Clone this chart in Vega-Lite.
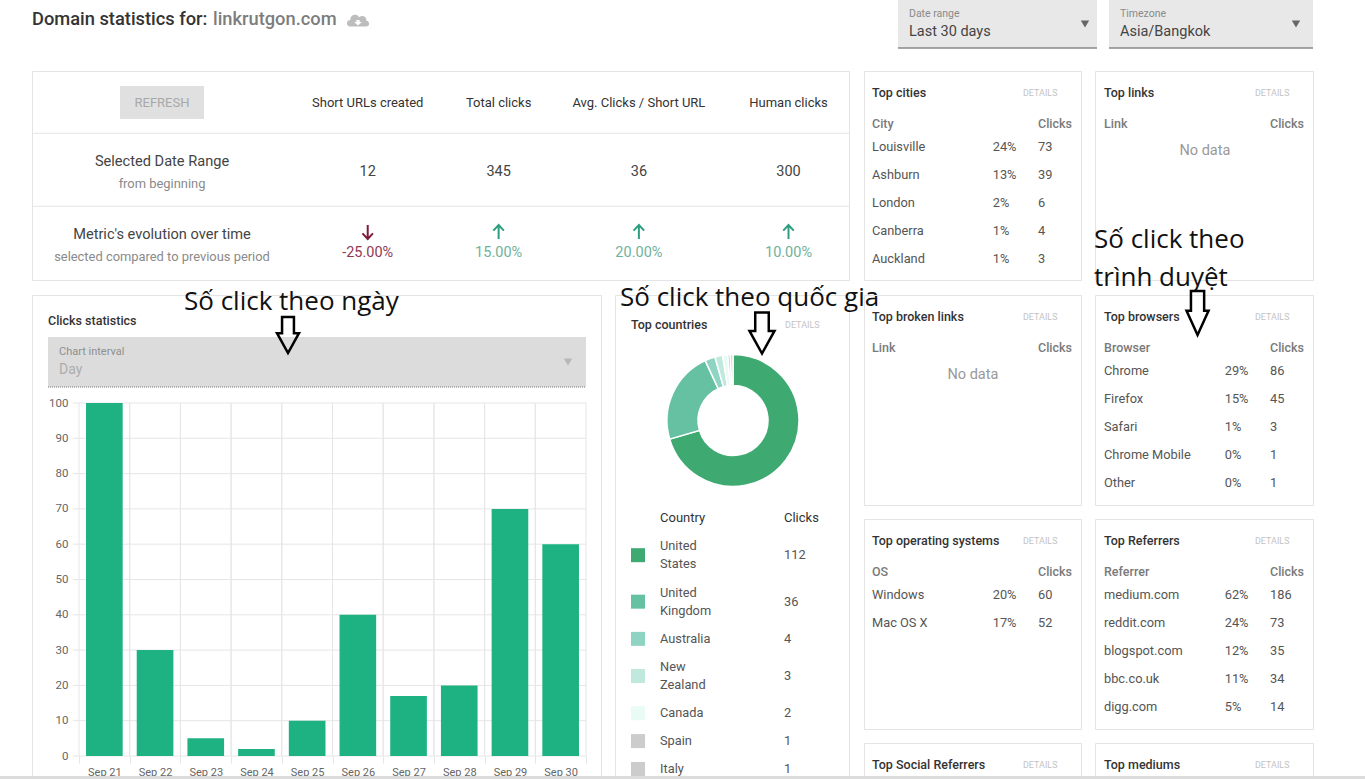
{
"$schema":"https://vega.github.io/schema/vega-lite/v6.json",
"padding":0,
"spacing":776,
"bounds":"flush",
"background":"#ffffff",
"config":{
"font":"Roboto",
"view":{"stroke":"#e4e4e4"},
"scale":{"pointPadding":0},
"text":{"align":"left","font":"Roboto"},
"style":{
"ptitle":{"fontSize":12.5,"fontWeight":500,"color":"#333333"},
"pdetails":{"fontSize":9,"color":"#c4c4c4"},
"phead":{"fontSize":12.5,"fontWeight":500,"color":"#7a7a7a"},
"pbody":{"fontSize":12.8,"color":"#555555"},
"pempty":{"fontSize":14.5,"color":"#999999"},
"note":{"font":"Open Sans","fontSize":26,"color":"#111111","lineHeight":38,"lineBreak":"\n"}
}
},
"vconcat":[
{"spacing":0,"bounds":"flush","hconcat":[
{"width":32,"height":1,"view":{"stroke":null},"data":{"values":[{"a":1}]},"mark":{"type":"rule","opacity":0},"encoding":{"y":{"field":"a","type":"quantitative","axis":null}}},
{"spacing":71,"bounds":"flush","vconcat":[
{"spacing":12,"bounds":"flush","hconcat":[
{"width":854,"height":48,"view":{"stroke":null},
"encoding":{"y":{"datum":"title","type":"nominal","axis":null,"scale":{"domain":["title"],"range":[20,20]}}},
"layer":[
{"data":{"values":[{"pos":"start","text":"Domain statistics for:"}]},"encoding":{"x":{"field":"pos","type":"nominal","axis":null,"scale":{"domain":["start","end"],"range":[0,854]}},"text":{"field":"text"}},"mark":{"type":"text","fontSize":18.3,"fontWeight":500,"color":"#333333"}},
{"data":{"values":[{"pos":"start","text":"linkrutgon.com"}]},"encoding":{"x":{"field":"pos","type":"nominal","axis":null,"scale":{"domain":["start","end"],"range":[0,854]}},"text":{"field":"text"}},"mark":{"type":"text","fontSize":18.3,"fontWeight":500,"color":"#7d7d7d","dx":181}},
{"data":{"values":[{"pos":"start"}]},"encoding":{"x":{"field":"pos","type":"nominal","axis":null,"scale":{"domain":["start","end"],"range":[0,854]}}},"mark":{"type":"point","filled":true,"opacity":1,"size":484,"color":"#bdbdbd","xOffset":326,"yOffset":1,"shape":"M-.7,.5C-1.1,.5,-1.1,-.1,-.7,-.1C-.7,-.6,-.1,-.7,.1,-.35C.5,-.6,.8,-.3,.75,-.05C1.1,0,1.1,.5,.75,.5Z"}},
{"data":{"values":[{"pos":"start"}]},"encoding":{"x":{"field":"pos","type":"nominal","axis":null,"scale":{"domain":["start","end"],"range":[0,854]}}},"mark":{"type":"point","filled":true,"opacity":1,"size":484,"color":"#ffffff","xOffset":326,"yOffset":1,"shape":"M-.15,-.1H.15V.1H.35L0,.42L-.35,.1H-.15Z"}}
]},
{"width":199,"height":48,"view":{"fill":"#e8e8e8","stroke":null},
"data":{"values":[{"row":"hint","col":"label","text":"Date range"},{"row":"value","col":"label","text":"Last 30 days"},{"row":"edge","col":"label"},{"row":"value","col":"caret"}]},
"encoding":{"x":{"field":"col","type":"nominal","axis":null,"scale":{"domain":["label","caret"],"range":[11,187]}},"y":{"field":"row","type":"nominal","axis":null,"scale":{"type":"point","domain":["hint","value","edge"],"range":[14,48]}},"text":{"field":"text"}},
"layer":[
{"transform":[{"filter":"datum.row=='hint'"}],"mark":{"type":"text","fontSize":10.5,"color":"#8a8a8a"}},
{"transform":[{"filter":"datum.row=='value'&&datum.col=='label'"}],"mark":{"type":"text","fontSize":14.5,"color":"#444444","dy":1}},
{"transform":[{"filter":"datum.row=='edge'"}],"mark":{"type":"rule","color":"#8a8a8a","strokeWidth":1.5},"encoding":{"x":null,"text":null}},
{"transform":[{"filter":"datum.col=='caret'"}],"mark":{"type":"point","shape":"triangle-down","filled":true,"opacity":1,"size":70,"color":"#666666","yOffset":-7},"encoding":{"text":null}}
]},
{"width":204,"height":48,"view":{"fill":"#e8e8e8","stroke":null},
"data":{"values":[{"row":"hint","col":"label","text":"Timezone"},{"row":"value","col":"label","text":"Asia/Bangkok"},{"row":"edge","col":"label"},{"row":"value","col":"caret"}]},
"encoding":{"x":{"field":"col","type":"nominal","axis":null,"scale":{"domain":["label","caret"],"range":[11,187]}},"y":{"field":"row","type":"nominal","axis":null,"scale":{"type":"point","domain":["hint","value","edge"],"range":[14,48]}},"text":{"field":"text"}},
"layer":[
{"transform":[{"filter":"datum.row=='hint'"}],"mark":{"type":"text","fontSize":10.5,"color":"#8a8a8a"}},
{"transform":[{"filter":"datum.row=='value'&&datum.col=='label'"}],"mark":{"type":"text","fontSize":14.5,"color":"#444444","dy":1}},
{"transform":[{"filter":"datum.row=='edge'"}],"mark":{"type":"rule","color":"#8a8a8a","strokeWidth":1.5},"encoding":{"x":null,"text":null}},
{"transform":[{"filter":"datum.col=='caret'"}],"mark":{"type":"point","shape":"triangle-down","filled":true,"opacity":1,"size":70,"color":"#666666","yOffset":-7},"encoding":{"text":null}}
]}
]},
{"spacing":832,"bounds":"flush","hconcat":[
{"spacing":15,"bounds":"flush","vconcat":[
{"width":817,"height":209,
"data":{"values":[
{"row":"head","col":"urls","kind":"head","text":"Short URLs created"},
{"row":"head","col":"total","kind":"head","text":"Total clicks"},
{"row":"head","col":"avg","kind":"head","text":"Avg. Clicks / Short URL"},
{"row":"head","col":"human","kind":"head","text":"Human clicks"},
{"row":"head","col":"label","kind":"button","text":"REFRESH"},
{"row":"line1","col":"label","kind":"line1"},
{"row":"line2","col":"label","kind":"line2"},
{"row":"range","col":"label","kind":"label","text":"Selected Date Range"},
{"row":"range","col":"label","kind":"sub1","text":"from beginning"},
{"row":"range","col":"urls","kind":"value","text":"12"},
{"row":"range","col":"total","kind":"value","text":"345"},
{"row":"range","col":"avg","kind":"value","text":"36"},
{"row":"range","col":"human","kind":"value","text":"300"},
{"row":"evo","col":"label","kind":"label2","text":"Metric's evolution over time"},
{"row":"evo","col":"label","kind":"sub2","text":"selected compared to previous period"},
{"row":"evo","col":"urls","kind":"pct","dir":"down","text":"-25.00%"},
{"row":"evo","col":"total","kind":"pct","dir":"up","text":"15.00%"},
{"row":"evo","col":"avg","kind":"pct","dir":"up","text":"20.00%"},
{"row":"evo","col":"human","kind":"pct","dir":"up","text":"10.00%"}
]},
"encoding":{
"x":{"field":"col","type":"nominal","axis":null,"scale":{"range":[130,756.5],"domain":["label","1","2","3","4","5","6","7","8","9","10","11","12","13","14","15","16","17","18","19","20","21","urls","23","24","25","26","27","28","29","30","31","32","33","34","35","total","37","38","39","40","41","42","43","44","45","46","47","48","49","50","avg","52","53","54","55","56","57","58","59","60","61","62","63","64","65","66","human"]}},
"y":{"field":"row","type":"nominal","axis":null,"scale":{"type":"point","domain":["head","line1","range","line2","evo"],"range":[29,172]}},
"text":{"field":"text"}},
"layer":[
{"transform":[{"filter":"datum.kind=='line1'"}],"mark":{"type":"rule","color":"#e4e4e4","yOffset":-2.5},"encoding":{"x":null,"text":null}},
{"transform":[{"filter":"datum.kind=='line2'"}],"mark":{"type":"rule","color":"#e4e4e4","yOffset":-1},"encoding":{"x":null,"text":null}},
{"transform":[{"filter":"datum.kind=='button'"}],"mark":{"type":"point","filled":true,"opacity":1,"size":7056,"color":"#e0e0e0","yOffset":2.5,"shape":"M-1,-.39H1V.39H-1Z"},"encoding":{"text":null}},
{"transform":[{"filter":"datum.kind=='button'"}],"mark":{"type":"text","align":"center","fontSize":13,"color":"#a8a8a8","dy":3}},
{"transform":[{"filter":"datum.kind=='head'"}],"mark":{"type":"text","align":"center","fontSize":13,"color":"#333333","dy":3}},
{"transform":[{"filter":"datum.kind=='value'"}],"mark":{"type":"text","align":"center","fontSize":14.5,"color":"#444444"}},
{"transform":[{"filter":"datum.kind=='label'"}],"mark":{"type":"text","align":"center","fontSize":14.6,"color":"#444444","dy":-9.5}},
{"transform":[{"filter":"datum.kind=='sub1'"}],"mark":{"type":"text","align":"center","fontSize":12.9,"color":"#8a8a8a","dy":12.5}},
{"transform":[{"filter":"datum.kind=='label2'"}],"mark":{"type":"text","align":"center","fontSize":14.6,"color":"#444444","dy":-8}},
{"transform":[{"filter":"datum.kind=='sub2'"}],"mark":{"type":"text","align":"center","fontSize":12.9,"color":"#8a8a8a","dy":14}},
{"transform":[{"filter":"datum.kind=='pct'&&datum.dir=='up'"}],"mark":{"type":"text","align":"center","fontSize":14.5,"dy":10,"color":"#6fb29c"}},
{"transform":[{"filter":"datum.kind=='pct'&&datum.dir=='down'"}],"mark":{"type":"text","align":"center","fontSize":14.5,"dy":10,"color":"#8f3a55"}},
{"transform":[{"filter":"datum.kind=='pct'&&datum.dir=='up'"}],"mark":{"type":"point","filled":false,"opacity":1,"size":196,"strokeWidth":2,"color":"#2e9e80","yOffset":-11,"shape":"M0,1V-1M-.75,-.2L0,-1L.75,-.2"},"encoding":{"text":null}},
{"transform":[{"filter":"datum.kind=='pct'&&datum.dir=='down'"}],"mark":{"type":"point","filled":false,"opacity":1,"size":196,"strokeWidth":2,"color":"#7d1c3f","yOffset":-11,"shape":"M0,-1V1M-.75,.2L0,1L.75,.2"},"encoding":{"text":null}}
]},
{"spacing":14,"bounds":"flush","hconcat":[
{"width":569,"height":481,
"resolve":{"scale":{"x":"independent","y":"independent"}},
"layer":[
{"data":{"values":[{"tick":0},{"tick":10},{"tick":20},{"tick":30},{"tick":40},{"tick":50},{"tick":60},{"tick":70},{"tick":80},{"tick":90},{"tick":100}]},
"mark":{"type":"rule","color":"#e6e6e6"},
"encoding":{
"x":{"datum":0,"type":"quantitative","axis":null,"scale":{"domain":[0,1],"range":[41,554]}},
"x2":{"datum":1},
"y":{"field":"tick","type":"quantitative","scale":{"domain":[0,100],"range":[461,108]},"axis":{"title":null,"offset":-47,"values":[0,10,20,30,40,50,60,70,80,90,100],"domain":false,"ticks":false,"grid":false,"labelPadding":11,"labelFontSize":11.5,"labelColor":"#666666","labelFont":"Roboto"}}}},
{"data":{"values":[{"day":"Sep 21","clicks":100},{"day":"Sep 22","clicks":30},{"day":"Sep 23","clicks":5},{"day":"Sep 24","clicks":2},{"day":"Sep 25","clicks":10},{"day":"Sep 26","clicks":40},{"day":"Sep 27","clicks":17},{"day":"Sep 28","clicks":20},{"day":"Sep 29","clicks":70},{"day":"Sep 30","clicks":60}]},
"resolve":{"scale":{"x":"independent"}},
"layer":[
{"mark":{"type":"rule","color":"#e6e6e6"},
"encoding":{
"x":{"field":"day","type":"nominal","bandPosition":0,"sort":null,"scale":{"type":"band","padding":0,"range":[47,554]},"axis":{"title":null,"orient":"bottom","offset":-20,"tickBand":"extent","labelAngle":0,"domain":false,"tickSize":7,"tickColor":"#e6e6e6","labelPadding":3,"labelFontSize":11,"labelColor":"#666666","labelFont":"Roboto","labelOverlap":false}},
"y":{"datum":0,"type":"quantitative","axis":null,"scale":{"domain":[0,100],"range":[461,108]}},
"y2":{"datum":100}}},
{"mark":{"type":"rule","color":"#e6e6e6"},
"encoding":{
"x":{"field":"day","type":"nominal","bandPosition":1,"sort":null,"axis":null,"scale":{"type":"band","padding":0,"range":[47,554]}},
"y":{"datum":0,"type":"quantitative","axis":null,"scale":{"domain":[0,100],"range":[461,108]}},
"y2":{"datum":100}}},
{"mark":{"type":"bar","color":"#1eb282"},
"encoding":{
"x":{"field":"day","type":"nominal","sort":null,"axis":null,"scale":{"type":"band","paddingInner":0.277,"paddingOuter":0.1385,"range":[47,554]}},
"y":{"field":"clicks","type":"quantitative","axis":null,"scale":{"domain":[0,100],"range":[461,108]}}}}
]},
{"data":{"values":[
{"part":"title","row":"title","pos":"start","text":"Clicks statistics"},
{"part":"box","row":"interval","pos":"center"},
{"part":"hint","row":"interval","pos":"start","text":"Chart interval"},
{"part":"day","row":"interval","pos":"start","text":"Day"},
{"part":"caret","row":"interval","pos":"end"},
{"part":"note","row":"title","pos":"center","text":"Số click theo ngày"},
{"part":"arrow","row":"title","pos":"center"}
]},
"encoding":{
"x":{"field":"pos","type":"nominal","axis":null,"scale":{"domain":["start","center","end"],"range":[16,554]}},
"y":{"field":"row","type":"nominal","axis":null,"scale":{"domain":["title","interval"],"range":[25,67]}},
"text":{"field":"text"}},
"layer":[
{"transform":[{"filter":"datum.part=='title'"}],"mark":{"type":"text","style":"ptitle","dy":1}},
{"transform":[{"filter":"datum.part=='box'"}],"mark":{"type":"point","filled":true,"opacity":1,"size":289444,"color":"#dcdcdc","shape":"M-1,-.093H1V.093H-1Z"},"encoding":{"text":null}},
{"transform":[{"filter":"datum.part=='box'"}],"mark":{"type":"point","filled":false,"opacity":1,"size":289444,"color":"#777777","strokeWidth":1,"strokeDash":[1,1],"shape":"M-1,.093H1"},"encoding":{"text":null}},
{"transform":[{"filter":"datum.part=='hint'"}],"mark":{"type":"text","fontSize":11,"color":"#8f8f8f","dx":11,"dy":-10}},
{"transform":[{"filter":"datum.part=='day'"}],"mark":{"type":"text","fontSize":14,"color":"#adadad","dx":11,"dy":8}},
{"transform":[{"filter":"datum.part=='caret'"}],"mark":{"type":"point","shape":"triangle-down","filled":true,"opacity":1,"size":70,"color":"#b8b8b8","xOffset":-18},"encoding":{"text":null}},
{"transform":[{"filter":"datum.part=='note'"}],"mark":{"type":"text","style":"note","dx":-133,"dy":-18}},
{"transform":[{"filter":"datum.part=='arrow'"}],"mark":{"type":"point","filled":false,"opacity":1,"size":1296,"strokeWidth":2.5,"color":"#000000","xOffset":-29,"yOffset":15,"shape":"M-.33,-1H.33V-.1H.61L0,1L-.61,-.1H-.33Z"},"encoding":{"text":null}}
]}
]},
{"width":234,"height":481,
"resolve":{"scale":{"x":"independent","y":"independent"}},
"data":{"values":[
{"country":"United States","label":"United\nStates","clicks":112},
{"country":"United Kingdom","label":"United\nKingdom","clicks":36},
{"country":"Australia","label":"Australia","clicks":4},
{"country":"New Zealand","label":"New\nZealand","clicks":3},
{"country":"Canada","label":"Canada","clicks":2},
{"country":"Spain","label":"Spain","clicks":1},
{"country":"Italy","label":"Italy","clicks":1}
]},
"layer":[
{"mark":{"type":"arc","innerRadius":35,"outerRadius":66,"stroke":"#ffffff","strokeWidth":1.5,"xOffset":1},
"encoding":{
"theta":{"field":"clicks","type":"quantitative"},
"order":{"field":"clicks","sort":"descending"},
"color":{"field":"country","type":"nominal","legend":null,"scale":{"domain":["United States","United Kingdom","Australia","New Zealand","Canada","Spain","Italy"],"range":["#3eaa72","#66c0a2","#8fd3c3","#c0e8dd","#e8fbf5","#cccccc","#cccccc"]}},
"y":{"datum":"donut","type":"nominal","axis":null,"scale":{"domain":["title","donut"],"range":[30,125.5]}}}},
{"encoding":{"y":{"field":"country","type":"nominal","axis":null,"scale":{"range":[223,474],"domain":["head","a1","a2","a3","United States","b1","b2","b3","b4","United Kingdom","c1","c2","c3","Australia","d1","d2","d3","New Zealand","e1","e2","e3","Canada","f1","f2","Spain","g1","g2","Italy"]}}},
"layer":[
{"mark":{"type":"point","shape":"square","filled":true,"opacity":1,"size":196},
"encoding":{
"x":{"datum":"swatch","type":"nominal","axis":null,"scale":{"domain":["swatch","label","clicks"],"range":[23,169]}},
"color":{"field":"country","type":"nominal","legend":null}}},
{"transform":[{"filter":"indexof(datum.label,'\\n')>=0"}],"mark":{"type":"text","style":"pbody","lineBreak":"\n","lineHeight":18,"dx":-51,"dy":-9},
"encoding":{
"x":{"datum":"label","type":"nominal","axis":null,"scale":{"domain":["swatch","label","clicks"],"range":[23,169]}},
"text":{"field":"label"}}},
{"transform":[{"filter":"indexof(datum.label,'\\n')<0"}],"mark":{"type":"text","style":"pbody","dx":-51},
"encoding":{
"x":{"datum":"label","type":"nominal","axis":null,"scale":{"domain":["swatch","label","clicks"],"range":[23,169]}},
"text":{"field":"label"}}},
{"mark":{"type":"text","style":"pbody"},
"encoding":{
"x":{"datum":"clicks","type":"nominal","axis":null,"scale":{"domain":["swatch","label","clicks"],"range":[23,169]}},
"text":{"field":"clicks"}}}
]},
{"data":{"values":[{"country":"head","pos":"label","text":"Country"},{"country":"head","pos":"clicks","text":"Clicks"}]},
"encoding":{
"x":{"field":"pos","type":"nominal","axis":null,"scale":{"domain":["swatch","label","clicks"],"range":[23,169]}},
"y":{"field":"country","type":"nominal","axis":null,"scale":{"domain":["head"],"range":[223,223]}},
"text":{"field":"text"}},
"layer":[
{"transform":[{"filter":"datum.pos=='label'"}],"mark":{"type":"text","fontSize":13,"color":"#333333","dx":-51}},
{"transform":[{"filter":"datum.pos=='clicks'"}],"mark":{"type":"text","fontSize":13,"color":"#333333"}}
]},
{"data":{"values":[
{"part":"title","row":"title","pos":"swatch","text":"Top countries"},
{"part":"details","row":"title","pos":"clicks","text":"DETAILS"},
{"part":"note","row":"title","pos":"swatch","text":"Số click theo quốc gia"},
{"part":"arrow","row":"title","pos":"clicks"}
]},
"encoding":{
"x":{"field":"pos","type":"nominal","axis":null,"scale":{"domain":["swatch","label","clicks"],"range":[23,169]}},
"y":{"field":"row","type":"nominal","axis":null,"scale":{"domain":["title","donut"],"range":[30,125]}},
"text":{"field":"text"}},
"layer":[
{"transform":[{"filter":"datum.part=='title'"}],"mark":{"type":"text","style":"ptitle","dx":-7}},
{"transform":[{"filter":"datum.part=='details'"}],"mark":{"type":"text","style":"pdetails","dx":1}},
{"transform":[{"filter":"datum.part=='note'"}],"mark":{"type":"text","style":"note","dx":-18,"dy":-27}},
{"transform":[{"filter":"datum.part=='arrow'"}],"mark":{"type":"point","filled":false,"opacity":1,"size":1681,"strokeWidth":2.5,"color":"#000000","xOffset":-22,"yOffset":8,"shape":"M-.33,-1H.33V-.1H.61L0,1L-.61,-.1H-.33Z"},"encoding":{"text":null}}
]}
]}
]}
]},
{"spacing":231,"bounds":"flush","hconcat":[
{"spacing":15,"bounds":"flush","vconcat":[
{"width":217,"height":209,
"data":{"values":[
{"row":"title","col":"name","text":"Top cities"},{"row":"title","col":"details","text":"DETAILS"},
{"row":"head","col":"name","text":"City"},{"row":"head","col":"clicks","text":"Clicks"},
{"row":"r1","col":"name","text":"Louisville"},{"row":"r1","col":"pct","text":"24%"},{"row":"r1","col":"clicks","text":"73"},
{"row":"r2","col":"name","text":"Ashburn"},{"row":"r2","col":"pct","text":"13%"},{"row":"r2","col":"clicks","text":"39"},
{"row":"r3","col":"name","text":"London"},{"row":"r3","col":"pct","text":"2%"},{"row":"r3","col":"clicks","text":"6"},
{"row":"r4","col":"name","text":"Canberra"},{"row":"r4","col":"pct","text":"1%"},{"row":"r4","col":"clicks","text":"4"},
{"row":"r5","col":"name","text":"Auckland"},{"row":"r5","col":"pct","text":"1%"},{"row":"r5","col":"clicks","text":"3"}
]},
"encoding":{"x":{"field":"col","type":"nominal","axis":null,"scale":{"domain":["name","1","2","3","4","empty","arrow","7","pct","9","details","clicks"],"range":[8,174]}},"y":{"field":"row","type":"nominal","axis":null,"scale":{"domain":["title","head","r1","r2","r3","r4","r5"],"range":[20,188]}},"text":{"field":"text"}},
"layer":[
{"transform":[{"filter":"datum.row=='title'&&datum.col=='name'"}],"mark":{"type":"text","style":"ptitle","dy":2}},
{"transform":[{"filter":"datum.col=='details'"}],"mark":{"type":"text","style":"pdetails","dy":2}},
{"transform":[{"filter":"datum.row=='head'"}],"mark":{"type":"text","style":"phead","dy":5}},
{"transform":[{"filter":"datum.row!='title'&&datum.row!='head'"}],"mark":{"type":"text","style":"pbody"}}
]},
{"spacing":14,"bounds":"flush","vconcat":[
{"width":217,"height":210,
"data":{"values":[
{"row":"title","col":"name","text":"Top broken links"},{"row":"title","col":"details","text":"DETAILS"},
{"row":"head","col":"name","text":"Link"},{"row":"head","col":"clicks","text":"Clicks"},
{"row":"r1","col":"empty","text":"No data"}
]},
"encoding":{"x":{"field":"col","type":"nominal","axis":null,"scale":{"domain":["name","1","2","3","4","empty","arrow","7","pct","9","details","clicks"],"range":[8,174]}},"y":{"field":"row","type":"nominal","axis":null,"scale":{"domain":["title","head","r1","r2","r3","r4","r5"],"range":[20,188]}},"text":{"field":"text"}},
"layer":[
{"transform":[{"filter":"datum.row=='title'&&datum.col=='name'"}],"mark":{"type":"text","style":"ptitle","dy":2}},
{"transform":[{"filter":"datum.col=='details'"}],"mark":{"type":"text","style":"pdetails","dy":2}},
{"transform":[{"filter":"datum.row=='head'"}],"mark":{"type":"text","style":"phead","dy":5}},
{"transform":[{"filter":"datum.col=='empty'"}],"mark":{"type":"text","style":"pempty","dy":4}}
]},
{"width":217,"height":210,
"data":{"values":[
{"row":"title","col":"name","text":"Top operating systems"},{"row":"title","col":"details","text":"DETAILS"},
{"row":"head","col":"name","text":"OS"},{"row":"head","col":"clicks","text":"Clicks"},
{"row":"r1","col":"name","text":"Windows"},{"row":"r1","col":"pct","text":"20%"},{"row":"r1","col":"clicks","text":"60"},
{"row":"r2","col":"name","text":"Mac OS X"},{"row":"r2","col":"pct","text":"17%"},{"row":"r2","col":"clicks","text":"52"}
]},
"encoding":{"x":{"field":"col","type":"nominal","axis":null,"scale":{"domain":["name","1","2","3","4","empty","arrow","7","pct","9","details","clicks"],"range":[8,174]}},"y":{"field":"row","type":"nominal","axis":null,"scale":{"domain":["title","head","r1","r2","r3","r4","r5"],"range":[20,188]}},"text":{"field":"text"}},
"layer":[
{"transform":[{"filter":"datum.row=='title'&&datum.col=='name'"}],"mark":{"type":"text","style":"ptitle","dy":2}},
{"transform":[{"filter":"datum.col=='details'"}],"mark":{"type":"text","style":"pdetails","dy":2}},
{"transform":[{"filter":"datum.row=='head'"}],"mark":{"type":"text","style":"phead","dy":5}},
{"transform":[{"filter":"datum.row!='title'&&datum.row!='head'"}],"mark":{"type":"text","style":"pbody"}}
]},
{"width":217,"height":33,
"data":{"values":[{"row":"title","col":"name","text":"Top Social Referrers"},{"row":"title","col":"details","text":"DETAILS"}]},
"encoding":{"x":{"field":"col","type":"nominal","axis":null,"scale":{"domain":["name","1","2","3","4","empty","arrow","7","pct","9","details","clicks"],"range":[8,174]}},"y":{"field":"row","type":"nominal","axis":null,"scale":{"domain":["title","head"],"range":[20,48]}},"text":{"field":"text"}},
"layer":[
{"transform":[{"filter":"datum.col=='name'"}],"mark":{"type":"text","style":"ptitle","dy":2}},
{"transform":[{"filter":"datum.col=='details'"}],"mark":{"type":"text","style":"pdetails","dy":2}}
]}
]}
]},
{"spacing":15,"bounds":"flush","vconcat":[
{"width":218,"height":209,
"data":{"values":[
{"row":"title","col":"name","text":"Top links"},{"row":"title","col":"details","text":"DETAILS"},
{"row":"head","col":"name","text":"Link"},{"row":"head","col":"clicks","text":"Clicks"},
{"row":"r1","col":"empty","text":"No data"},
{"row":"r5","col":"name","note":true,"text":"Số click theo\ntrình duyệt"}
]},
"encoding":{"x":{"field":"col","type":"nominal","axis":null,"scale":{"domain":["name","1","2","3","4","empty","arrow","7","pct","9","details","clicks"],"range":[9,175]}},"y":{"field":"row","type":"nominal","axis":null,"scale":{"domain":["title","head","r1","r2","r3","r4","r5"],"range":[20,188]}},"text":{"field":"text"}},
"layer":[
{"transform":[{"filter":"datum.row=='title'&&datum.col=='name'"}],"mark":{"type":"text","style":"ptitle","dy":2}},
{"transform":[{"filter":"datum.col=='details'"}],"mark":{"type":"text","style":"pdetails","dy":2}},
{"transform":[{"filter":"datum.row=='head'"}],"mark":{"type":"text","style":"phead","dy":5}},
{"transform":[{"filter":"datum.col=='empty'"}],"mark":{"type":"text","style":"pempty","dy":4}},
{"transform":[{"filter":"datum.note"}],"mark":{"type":"text","style":"note","dx":-10,"dy":-19}}
]},
{"spacing":14,"bounds":"flush","vconcat":[
{"width":218,"height":210,
"data":{"values":[
{"row":"title","col":"name","text":"Top browsers"},{"row":"title","col":"details","text":"DETAILS"},{"row":"title","col":"arrow"},
{"row":"head","col":"name","text":"Browser"},{"row":"head","col":"clicks","text":"Clicks"},
{"row":"r1","col":"name","text":"Chrome"},{"row":"r1","col":"pct","text":"29%"},{"row":"r1","col":"clicks","text":"86"},
{"row":"r2","col":"name","text":"Firefox"},{"row":"r2","col":"pct","text":"15%"},{"row":"r2","col":"clicks","text":"45"},
{"row":"r3","col":"name","text":"Safari"},{"row":"r3","col":"pct","text":"1%"},{"row":"r3","col":"clicks","text":"3"},
{"row":"r4","col":"name","text":"Chrome Mobile"},{"row":"r4","col":"pct","text":"0%"},{"row":"r4","col":"clicks","text":"1"},
{"row":"r5","col":"name","text":"Other"},{"row":"r5","col":"pct","text":"0%"},{"row":"r5","col":"clicks","text":"1"}
]},
"encoding":{"x":{"field":"col","type":"nominal","axis":null,"scale":{"domain":["name","1","2","3","4","empty","arrow","7","pct","9","details","clicks"],"range":[9,175]}},"y":{"field":"row","type":"nominal","axis":null,"scale":{"domain":["title","head","r1","r2","r3","r4","r5"],"range":[20,188]}},"text":{"field":"text"}},
"layer":[
{"transform":[{"filter":"datum.row=='title'&&datum.col=='name'"}],"mark":{"type":"text","style":"ptitle","dy":2}},
{"transform":[{"filter":"datum.col=='details'"}],"mark":{"type":"text","style":"pdetails","dy":2}},
{"transform":[{"filter":"datum.row=='head'"}],"mark":{"type":"text","style":"phead","dy":5}},
{"transform":[{"filter":"datum.row!='title'&&datum.row!='head'"}],"mark":{"type":"text","style":"pbody"}},
{"transform":[{"filter":"datum.col=='arrow'"}],"mark":{"type":"point","filled":false,"opacity":1,"size":1936,"strokeWidth":2.5,"color":"#000000","xOffset":3,"yOffset":-2,"shape":"M-.3,-1H.3V-.1H.5L0,1L-.5,-.1H-.3Z"},"encoding":{"text":null}}
]},
{"width":218,"height":210,
"data":{"values":[
{"row":"title","col":"name","text":"Top Referrers"},{"row":"title","col":"details","text":"DETAILS"},
{"row":"head","col":"name","text":"Referrer"},{"row":"head","col":"clicks","text":"Clicks"},
{"row":"r1","col":"name","text":"medium.com"},{"row":"r1","col":"pct","text":"62%"},{"row":"r1","col":"clicks","text":"186"},
{"row":"r2","col":"name","text":"reddit.com"},{"row":"r2","col":"pct","text":"24%"},{"row":"r2","col":"clicks","text":"73"},
{"row":"r3","col":"name","text":"blogspot.com"},{"row":"r3","col":"pct","text":"12%"},{"row":"r3","col":"clicks","text":"35"},
{"row":"r4","col":"name","text":"bbc.co.uk"},{"row":"r4","col":"pct","text":"11%"},{"row":"r4","col":"clicks","text":"34"},
{"row":"r5","col":"name","text":"digg.com"},{"row":"r5","col":"pct","text":"5%"},{"row":"r5","col":"clicks","text":"14"}
]},
"encoding":{"x":{"field":"col","type":"nominal","axis":null,"scale":{"domain":["name","1","2","3","4","empty","arrow","7","pct","9","details","clicks"],"range":[9,175]}},"y":{"field":"row","type":"nominal","axis":null,"scale":{"domain":["title","head","r1","r2","r3","r4","r5"],"range":[20,188]}},"text":{"field":"text"}},
"layer":[
{"transform":[{"filter":"datum.row=='title'&&datum.col=='name'"}],"mark":{"type":"text","style":"ptitle","dy":2}},
{"transform":[{"filter":"datum.col=='details'"}],"mark":{"type":"text","style":"pdetails","dy":2}},
{"transform":[{"filter":"datum.row=='head'"}],"mark":{"type":"text","style":"phead","dy":5}},
{"transform":[{"filter":"datum.row!='title'&&datum.row!='head'"}],"mark":{"type":"text","style":"pbody"}}
]},
{"width":218,"height":33,
"data":{"values":[{"row":"title","col":"name","text":"Top mediums"},{"row":"title","col":"details","text":"DETAILS"}]},
"encoding":{"x":{"field":"col","type":"nominal","axis":null,"scale":{"domain":["name","1","2","3","4","empty","arrow","7","pct","9","details","clicks"],"range":[9,175]}},"y":{"field":"row","type":"nominal","axis":null,"scale":{"domain":["title","head"],"range":[20,48]}},"text":{"field":"text"}},
"layer":[
{"transform":[{"filter":"datum.col=='name'"}],"mark":{"type":"text","style":"ptitle","dy":2}},
{"transform":[{"filter":"datum.col=='details'"}],"mark":{"type":"text","style":"pdetails","dy":2}}
]}
]}
]}
]}
]}
]}
]},
{"width":1365,"height":3,"view":{"fill":"#dcdcdc","stroke":null},"data":{"values":[{"a":1}]},"mark":{"type":"rule","opacity":0},"encoding":{"y":{"field":"a","type":"quantitative","axis":null}}}
]
}
